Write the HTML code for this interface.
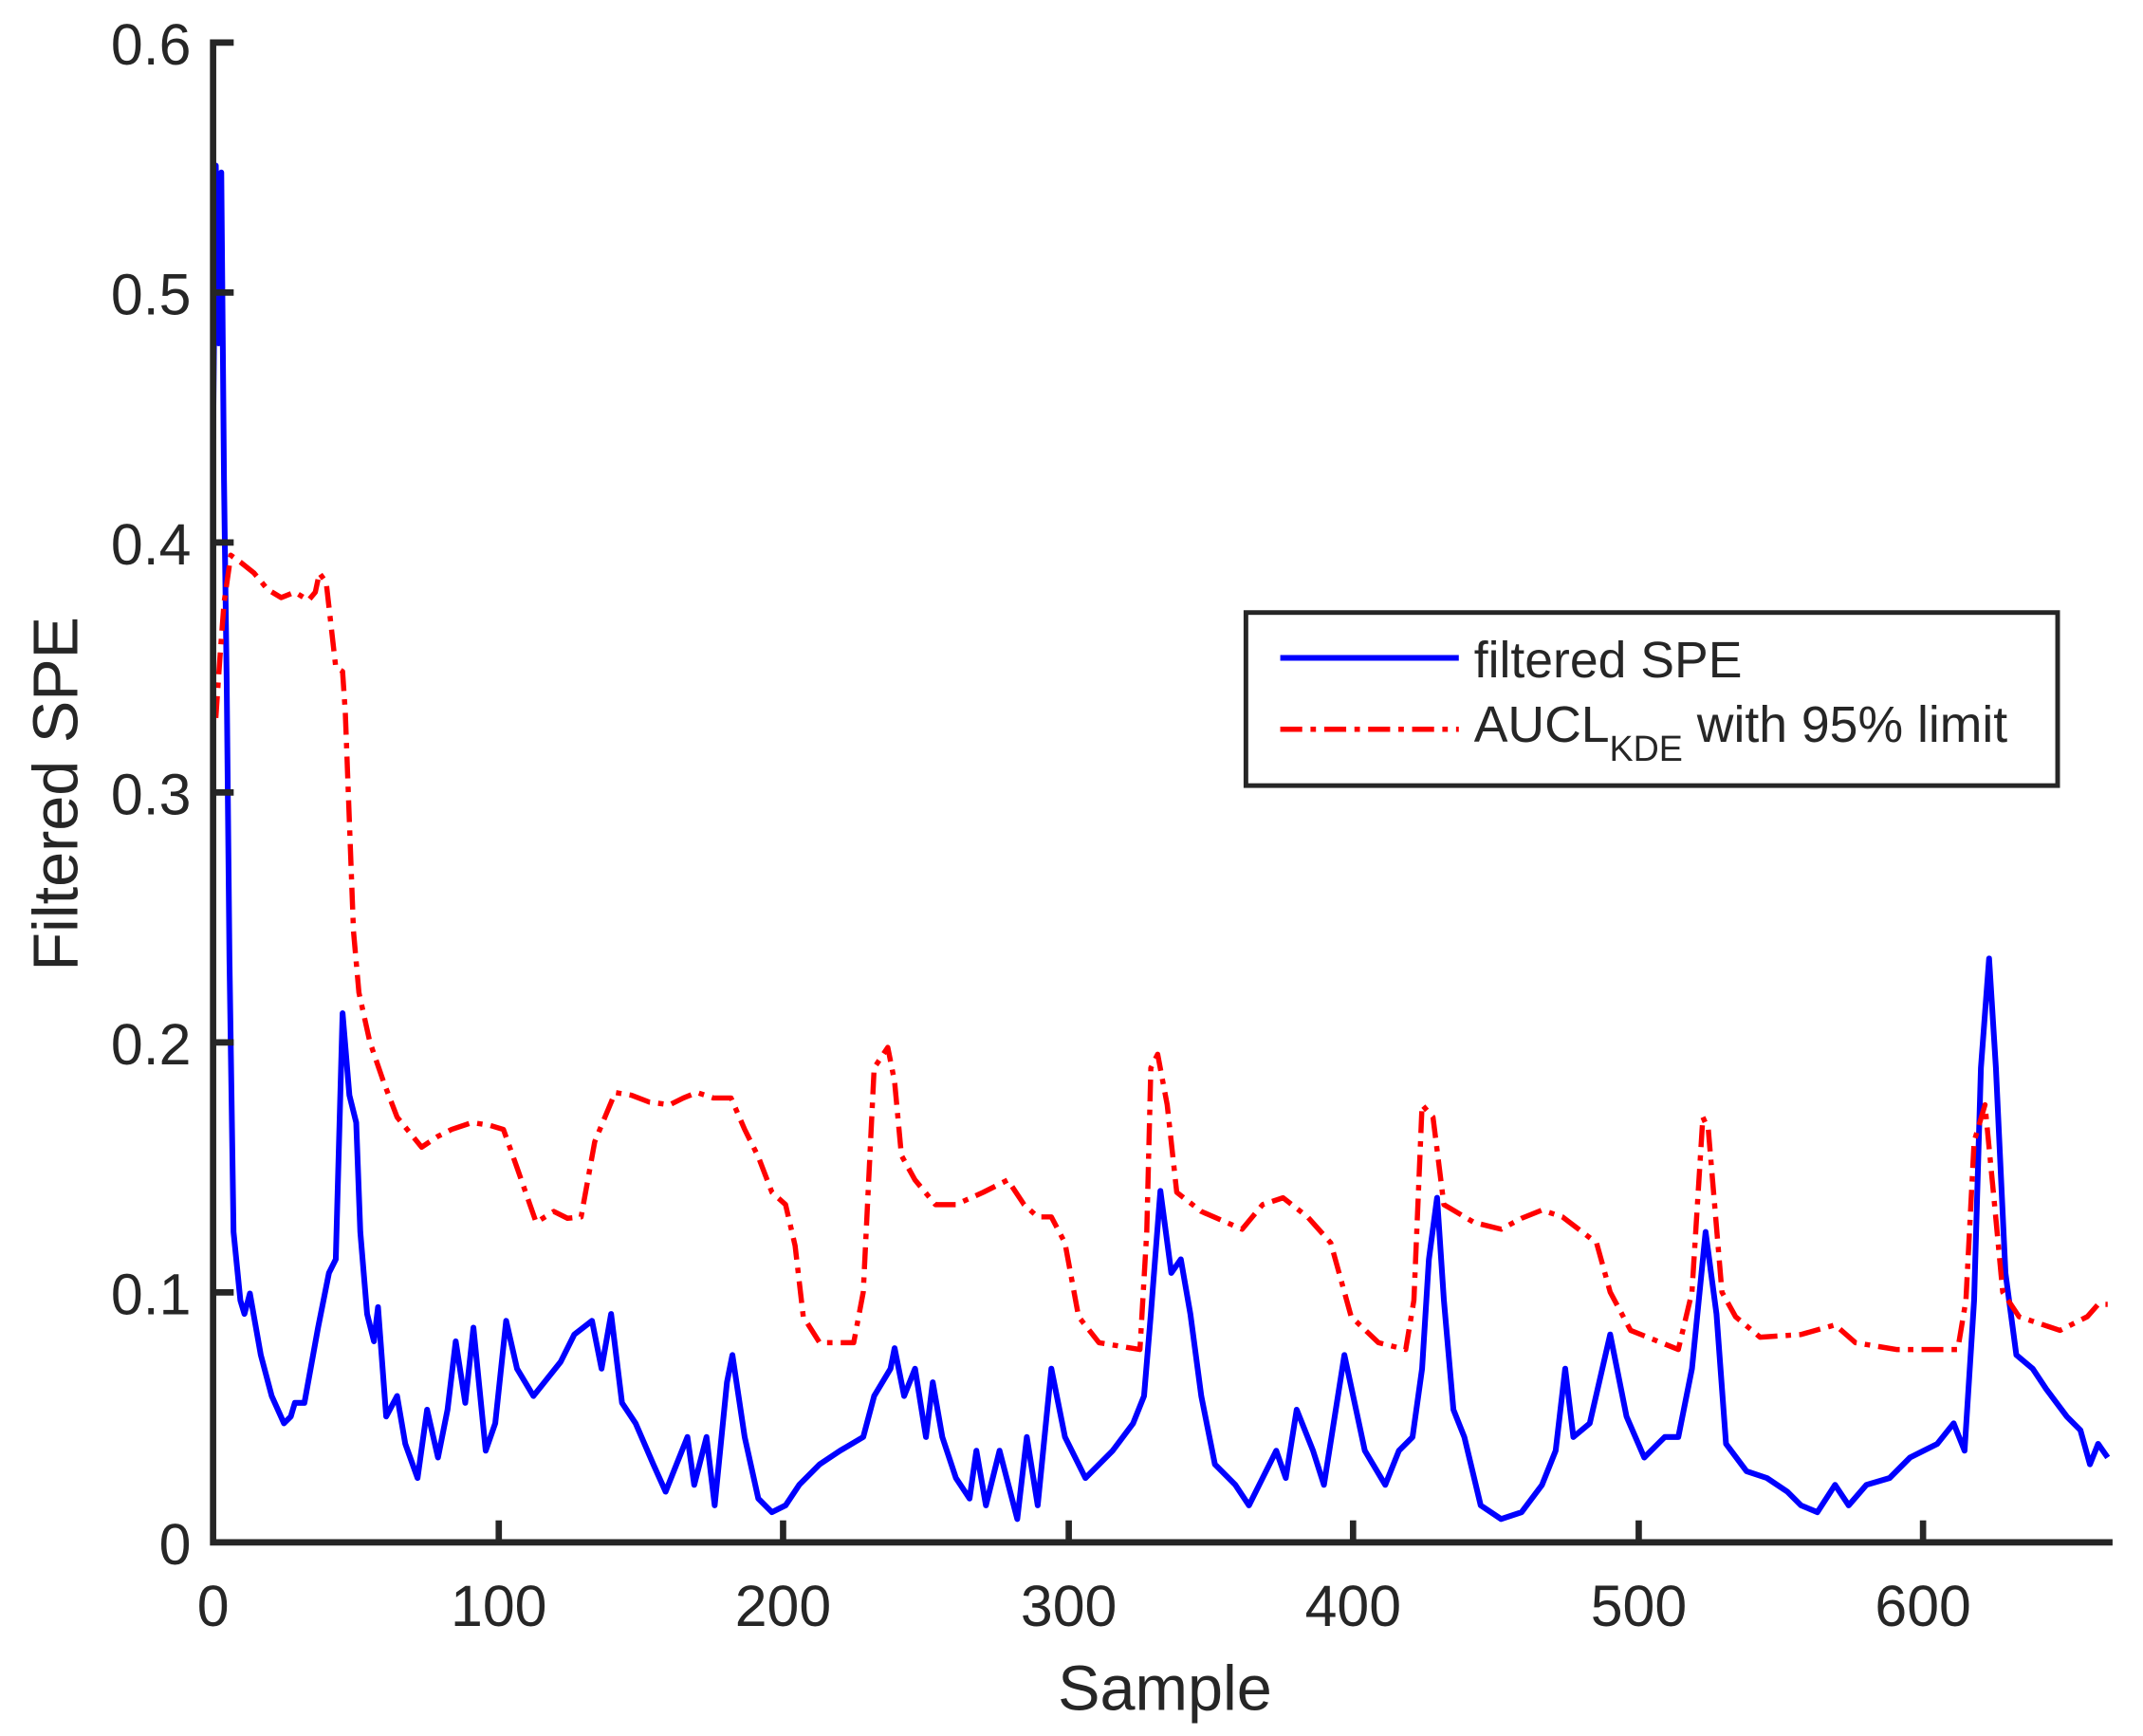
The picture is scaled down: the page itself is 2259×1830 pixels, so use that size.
<!DOCTYPE html>
<html><head><meta charset="utf-8"><style>
html,body{margin:0;padding:0;background:#fff;}
svg{display:block;}
text{font-family:"Liberation Sans",Arial,sans-serif;fill:#262626;}
</style></head><body>
<svg width="2259" height="1830" viewBox="0 0 1560 1264" xmlns="http://www.w3.org/2000/svg">
<rect width="1560" height="1264" fill="#fff"/>
<g transform="translate(155,31) scale(0.9924,0.9954) translate(-155,-30)" fill="none" stroke-linejoin="round">
<polyline stroke="#0000ff" stroke-width="4.2" points="155,320 157,120 159,250 161,125 163,350 165,500 167,700 170,900 175,950 178,960 182,945 190,990 198,1020 207,1040 212,1035 215,1025 222,1025 232,970 240,930 245,920 250,740 255,800 260,820 263,900 268,960 273,980 276,955 282,1035 290,1020 296,1055 305,1080 312,1030 320,1065 327,1030 333,980 340,1025 346,970 355,1060 362,1040 370,965 378,1000 390,1020 410,995 420,975 433,965 440,1000 447,960 455,1025 465,1040 478,1070 487,1090 495,1070 503,1050 508,1085 517,1050 523,1100 532,1010 536,990 545,1050 555,1095 565,1105 575,1100 585,1085 600,1070 615,1060 632,1050 640,1020 652,1000 655,985 662,1020 670,1000 678,1050 683,1010 690,1050 700,1080 710,1095 715,1060 722,1100 732,1060 745,1110 752,1050 760,1100 770,1000 780,1050 795,1080 815,1060 830,1040 838,1020 843,960 850,870 858,930 865,920 872,960 880,1020 890,1070 905,1085 915,1100 925,1080 935,1060 942,1080 950,1030 962,1060 970,1085 985,990 1000,1060 1015,1085 1025,1060 1035,1050 1042,1000 1047,920 1053,875 1058,950 1065,1030 1073,1050 1085,1100 1100,1110 1115,1105 1130,1085 1140,1060 1147,1000 1153,1050 1165,1040 1180,975 1192,1035 1205,1065 1220,1050 1230,1050 1240,1000 1250,900 1258,960 1265,1055 1280,1075 1295,1080 1310,1090 1320,1100 1332,1105 1345,1085 1355,1100 1368,1085 1385,1080 1400,1065 1420,1055 1432,1040 1440,1060 1447,950 1452,780 1458,700 1463,780 1470,930 1478,990 1490,1000 1500,1015 1515,1035 1525,1045 1532,1070 1538,1055 1545,1065"/>
<polyline stroke="#ff0000" stroke-width="3.8" stroke-dasharray="16 6 4 6" points="157,524 160,480 163,440 168,405 175,410 185,418 195,430 205,436 215,432 225,438 230,432 233,418 238,425 245,487 250,490 252,520 255,600 258,680 262,725 270,761 280,790 290,816 308,838 320,830 330,825 345,820 358,822 368,825 378,853 392,893 405,885 415,890 425,889 435,834 450,798 462,800 475,805 490,807 500,802 510,798 522,802 535,802 545,825 555,845 565,871 575,880 582,910 588,962 600,981 625,981 632,944 640,780 650,765 655,790 660,844 670,862 685,880 700,880 720,871 738,862 750,880 760,889 770,889 780,908 790,962 805,981 835,986 840,900 843,780 848,770 855,807 862,871 880,885 910,898 925,880 940,875 958,889 975,908 990,962 1010,981 1030,986 1036,950 1042,807 1050,816 1058,880 1080,893 1100,898 1115,890 1130,884 1145,889 1170,908 1180,944 1195,972 1230,986 1240,944 1248,816 1252,825 1262,944 1272,962 1290,977 1320,975 1345,968 1360,981 1390,986 1435,986 1441,950 1447,834 1455,807 1462,880 1468,944 1480,962 1510,972 1530,962 1538,953 1545,953"/>
</g>
<g stroke="#262626" stroke-width="4.6" fill="none">
<polyline points="170,31 155,31 155,1123 1538,1123"/>
<line x1="155" y1="941" x2="170" y2="941"/>
<line x1="155" y1="759" x2="170" y2="759"/>
<line x1="155" y1="577" x2="170" y2="577"/>
<line x1="155" y1="395" x2="170" y2="395"/>
<line x1="155" y1="213" x2="170" y2="213"/>
<line x1="363" y1="1123" x2="363" y2="1107"/>
<line x1="570" y1="1123" x2="570" y2="1107"/>
<line x1="778" y1="1123" x2="778" y2="1107"/>
<line x1="985" y1="1123" x2="985" y2="1107"/>
<line x1="1193" y1="1123" x2="1193" y2="1107"/>
<line x1="1400" y1="1123" x2="1400" y2="1107"/>
</g>
<g font-size="42" text-anchor="end">
<text x="139" y="47">0.6</text>
<text x="139" y="229">0.5</text>
<text x="139" y="411">0.4</text>
<text x="139" y="593">0.3</text>
<text x="139" y="775">0.2</text>
<text x="139" y="957">0.1</text>
<text x="139" y="1139">0</text>
</g>
<g font-size="42" text-anchor="middle">
<text x="155" y="1184">0</text>
<text x="363" y="1184">100</text>
<text x="570" y="1184">200</text>
<text x="778" y="1184">300</text>
<text x="985" y="1184">400</text>
<text x="1193" y="1184">500</text>
<text x="1400" y="1184">600</text>
</g>
<text x="848" y="1245" font-size="46" text-anchor="middle">Sample</text>
<text transform="translate(56,578) rotate(-90)" font-size="46" text-anchor="middle">Filtered SPE</text>
<rect x="907" y="446" width="591" height="126" fill="#fff" stroke="#262626" stroke-width="3.4"/>
<line x1="932" y1="479" x2="1062" y2="479" stroke="#0000ff" stroke-width="4.2"/>
<line x1="932" y1="531" x2="1062" y2="531" stroke="#ff0000" stroke-width="3.8" stroke-dasharray="16 6 4 6"/>
<text x="1073" y="493" font-size="37" fill="#000">filtered SPE</text>
<text x="1073" y="540" font-size="37" fill="#000">AUCL<tspan font-size="26" dy="14">KDE</tspan><tspan dy="-14"> with 95% limit</tspan></text>
</svg>
</body></html>
